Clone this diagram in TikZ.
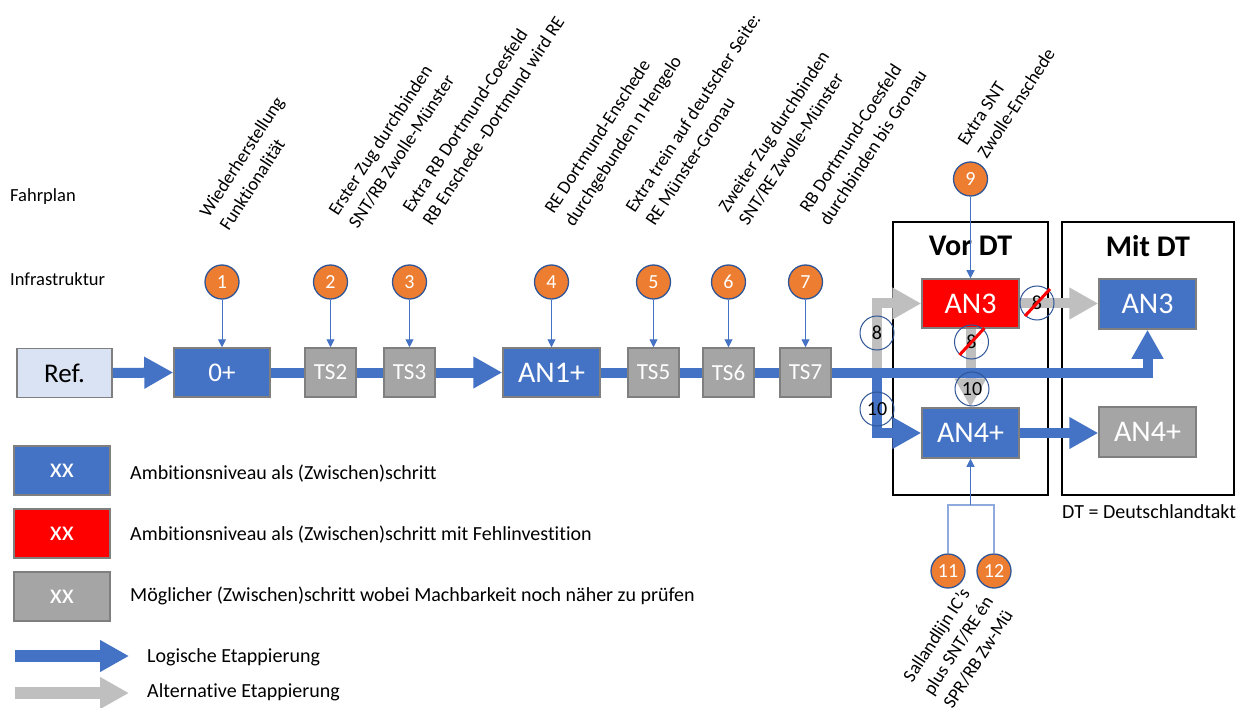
\documentclass[tikz,border=0pt]{standalone}
\usepackage{fontspec}
\setmainfont{Carlito}[Ligatures={NoCommon}]
\usetikzlibrary{arrows.meta}
\definecolor{mblue}{HTML}{4472C4}
\definecolor{mgray}{HTML}{A5A5A5}
\definecolor{bgray}{HTML}{7F7F7F}
\definecolor{lgray}{HTML}{BFBFBF}
\definecolor{lblue}{HTML}{DAE3F3}
\definecolor{morange}{HTML}{ED7D31}
\definecolor{dblue}{HTML}{2F5597}
\definecolor{pblue}{HTML}{8FAADC}
\tikzset{
 box/.style={draw=bgray, line width=1.5pt, minimum height=49pt, inner sep=0pt, text=white},
 bluebox/.style={box, fill=mblue},
 graybox/.style={box, fill=mgray},
 redbox/.style={box, fill=red},
 bline/.style={draw=mblue, line width=10pt},
 barrow/.style={bline, -{Triangle[length=29pt,width=30pt]}},
 gline/.style={draw=lgray, line width=10pt},
 garrow/.style={gline, -{Triangle[length=29pt,width=30pt]}},
 ocirc/.style={circle, fill=morange, draw=dblue, line width=1.3pt, minimum size=34pt, inner sep=0pt, text=white, font=\fontsize{20}{24}\selectfont},
 ncirc/.style={circle, draw=dblue, line width=1pt, minimum size=34pt, inner sep=0pt, font=\fontsize{20}{24}\selectfont},
 conn/.style={draw=mblue, line width=1pt, -{Triangle[length=8pt,width=8pt]}},
 rlab/.style={rotate=57, anchor=south west, align=left, inner sep=0pt, font=\fontsize{18.5}{24}\selectfont},
 frm/.style={draw=black, line width=2pt},
 txt/.style={anchor=west, inner sep=0pt, font=\fontsize{20}{24}\selectfont},
 strike/.style={draw=red, line width=3pt},
}
\begin{document}
\begin{tikzpicture}[x=1pt,y=-1pt]
\useasboundingbox[fill=white] (0,0) rectangle (1249,708);

% frames
\draw[frm] (893,222) rectangle (1048,495);
\draw[frm] (1062,222) rectangle (1234,495);
\node[font=\fontsize{30}{36}\selectfont\bfseries] (vordt) at (970.5,246) {Vor DT};
\node[font=\fontsize{30}{36}\selectfont\bfseries] (mitdt) at (1148,246) {Mit DT};
\node[txt] (dtdef) at (1062,512) {DT = Deutschlandtakt};

% side labels
\node[txt, font=\fontsize{18.5}{22}\selectfont] (fahrplan) at (10,197) {Fahrplan};
\node[txt, font=\fontsize{18.5}{22}\selectfont] (infra) at (10,279) {Infrastruktur};

% main boxes
\node[box, fill=lblue, text=black, minimum width=95pt, font=\fontsize{27}{32}\selectfont] (ref) at (64.5,373) {Ref.};
\node[bluebox, minimum width=96pt, font=\fontsize{27}{32}\selectfont] (zp) at (222,372.5) {0+};
\node[graybox, minimum width=51pt, font=\fontsize{23}{28}\selectfont] (ts2) at (330.5,372.5) {TS2};
\node[graybox, minimum width=51pt, font=\fontsize{23}{28}\selectfont] (ts3) at (409.5,372.5) {TS3};
\node[bluebox, minimum width=97pt, font=\fontsize{30}{36}\selectfont] (an1) at (551.5,372.5) {AN1+};
\node[graybox, minimum width=51pt, font=\fontsize{23}{28}\selectfont] (ts5) at (653.5,372.5) {TS5};
\node[graybox, minimum width=51pt, font=\fontsize{23}{28}\selectfont] (ts6) at (728.5,372.5) {TS6};
\node[graybox, minimum width=51pt, font=\fontsize{23}{28}\selectfont] (ts7) at (805.5,372.5) {TS7};
\node[redbox, minimum width=97pt, font=\fontsize{30}{36}\selectfont] (an3r) at (970.5,303.5) {AN3};
\node[bluebox, minimum width=97pt, minimum height=50pt, font=\fontsize{30}{36}\selectfont] (an4b) at (970.5,433) {AN4+};
\node[bluebox, minimum width=97pt, minimum height=50pt, font=\fontsize{30}{36}\selectfont] (an3m) at (1147.5,304) {AN3};
\node[graybox, minimum width=97pt, minimum height=50pt, font=\fontsize{30}{36}\selectfont] (an4g) at (1147.5,432) {AN4+};

% gray (alternative) arrows, behind
\coordinate (j) at (877,372.5);
\draw[garrow] (j) -- (j |- an3r.west) -- (an3r.west);
\draw[garrow] (an3r.east) -- (an3r.east -| an3m.west);
\draw[garrow] (an3r.south) -- (an4b.north);

% blue (logical) arrows
\draw[barrow] (ref.east) -- (zp.west);
\draw[bline] (zp.east) -- (ts2.west);
\draw[bline] (ts2.east) -- (ts3.west);
\draw[barrow] (ts3.east) -- (an1.west);
\draw[bline] (an1.east) -- (ts5.west);
\draw[bline] (ts5.east) -- (ts6.west);
\draw[bline] (ts6.east) -- (ts7.west);
\draw[barrow] (ts7.east) -- (ts7.east -| an3m.south) -- (an3m.south);
\draw[barrow] (j) -- (j |- an4b.west) -- (an4b.west);
\draw[barrow] (an4b.east) -- (an4b.east -| an4g.west);

% numbered open circles
\node[ncirc] (c8a) at (877,333) {8};
\node[ncirc] (c10a) at (877,409) {10};
\node[ncirc] (c8b) at (971.5,342) {8};
\draw[strike] ([shift={(-12,13)}]c8b.center) -- ([shift={(13,-14)}]c8b.center);
\node[ncirc] (c10b) at (972,389) {10};
\node[ncirc] (c8c) at (1037,303) {8};
\draw[strike] ([shift={(-12,13)}]c8c.center) -- ([shift={(13,-14)}]c8c.center);

% orange circles
\node[ocirc] (o1) at (222,282) {1};
\node[ocirc] (o2) at (330.5,282) {2};
\node[ocirc] (o3) at (409.5,282) {3};
\node[ocirc] (o4) at (551.5,282) {4};
\node[ocirc] (o5) at (653.5,282) {5};
\node[ocirc] (o6) at (728.5,282) {6};
\node[ocirc] (o7) at (805.5,282) {7};
\node[ocirc] (o9) at (970.5,179) {9};
\node[ocirc] (o11) at (948,571) {11};
\node[ocirc] (o12) at (994,571) {12};

\draw[conn] (o1.south) -- (zp.north);
\draw[conn] (o2.south) -- (ts2.north);
\draw[conn] (o3.south) -- (ts3.north);
\draw[conn] (o4.south) -- (an1.north);
\draw[conn] (o5.south) -- (ts5.north);
\draw[conn] (o6.south) -- (ts6.north);
\draw[conn] (o7.south) -- (ts7.north);
\draw[conn] (o9.south) -- (an3r.north);
\coordinate (br) at (970.5,505);
\draw[draw=pblue, line width=1.5pt] (o11.north) -- (o11.north |- br) -- (o12.north |- br) -- (o12.north);
\draw[conn] (br) -- (an4b.south);

% rotated labels
\node[rlab] (l1) at (235,236) {\strut Wiederherstellung\\\strut Funktionalität};
\node[rlab] (l2) at (364,234) {\strut Erster Zug durchbinden\\\strut SNT/RB Zwolle-Münster};
\node[rlab] (l3) at (438,231) {\strut Extra RB Dortmund-Coesfeld\\\strut RB Enschede -Dortmund wird RE};
\node[rlab] (l4) at (580,232) {\strut RE Dortmund-Enschede\\\strut durchgebunden n Hengelo};
\node[rlab] (l5) at (661,231) {\strut Extra trein auf deutscher Seite:\\\strut RE Münster-Gronau};
\node[rlab] (l6) at (754,231) {\strut Zweiter Zug durchbinden\\\strut SNT/RE Zwolle-Münster};
\node[rlab] (l7) at (835,231) {\strut RB Dortmund-Coesfeld\\\strut durchbinden bis Gronau};
\node[rlab] (l9) at (993,164) {\strut Extra SNT\\\strut Zwolle-Enschede};
\node[rlab, anchor=north west] (l11) at (898,674) {\strut Sallandlijn IC's\\\strut plus SNT/RE én\\\strut SPR/RB Zw-Mü};

% legend
\node[bluebox, minimum width=96pt, font=\fontsize{28}{34}\selectfont] (lg1) at (62,470.5) {xx};
\node[redbox, minimum width=96pt, font=\fontsize{28}{34}\selectfont] (lg2) at (62,533.5) {xx};
\node[graybox, minimum width=96pt, font=\fontsize{28}{34}\selectfont] (lg3) at (62,596.5) {xx};
\node[txt] (lt1) at (130,474) {Ambitionsniveau als (Zwischen)schritt};
\node[txt] (lt2) at (130,535) {Ambitionsniveau als (Zwischen)schritt mit Fehlinvestition};
\node[txt] (lt3) at (130,596) {Möglicher (Zwischen)schritt wobei Machbarkeit noch näher zu prüfen};
\coordinate (la1) at (15,656);
\coordinate (la2) at (129,656);
\coordinate (lb1) at (15,693);
\coordinate (lb2) at (129,693);
\draw[barrow, line width=12pt] (la1) -- (la2);
\draw[garrow, line width=12pt] (lb1) -- (lb2);
\node[txt] (lt4) at (147,657) {Logische Etappierung};
\node[txt] (lt5) at (147,692) {Alternative Etappierung};
\end{tikzpicture}
\end{document}
